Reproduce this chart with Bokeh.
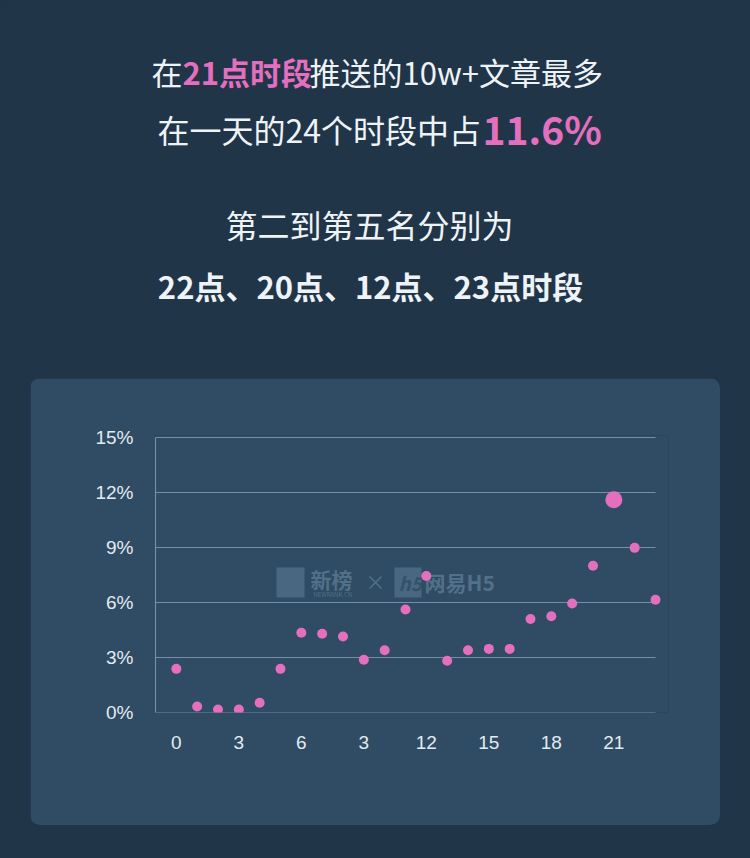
from bokeh.plotting import figure
from bokeh.layouts import column, row
from bokeh.models import Range1d, FixedTicker, ColumnDataSource, Spacer
from bokeh.core.properties import value
from bokeh.embed import file_html
from bokeh.resources import INLINE

# ---------------- data ----------------
hours = list(range(24))
share = [2.38, 0.33, 0.16, 0.16, 0.53, 2.38, 4.35, 4.30, 4.15, 2.88, 3.40, 5.62,
         7.45, 2.82, 3.40, 3.47, 3.47, 5.10, 5.25, 5.95, 8.00, 11.60, 8.98, 6.15]
top_hour = 21
x_ticks = [0, 3, 6, 9, 12, 15, 18, 21]
x_tick_labels = ["0", "3", "6", "3", "12", "15", "18", "21"]
y_ticks = [0, 3, 6, 9, 12, 15]
y_tick_labels = ["0%", "3%", "6%", "9%", "12%", "15%"]

# ---------------- style ----------------
BG = "#213549"
CARD = "#2f4c64"
GRID = "#7390a8"
PINK = "#e46fbf"
WHITE = "#eef3f7"
TICK = "#e3eaf0"
CJK = "Noto Sans CJK SC"

W, H = 750, 858
TOP_H = 378
CARD_L, CARD_W, CARD_H = 30, 690, 447
BOTTOM_GAP = H - TOP_H - CARD_H

# ---------------- headline (top panel, pixel coordinates) ----------------
top = figure(width=W, height=TOP_H, x_range=Range1d(0, W), y_range=Range1d(TOP_H, 0),
             x_axis_type=None, y_axis_type=None, min_border=0,
             output_backend="svg", toolbar_location=None,
             background_fill_color=BG, border_fill_color=BG, outline_line_color=None)
top.grid.visible = False

def lab(text, px, py, size, color, style="normal", align="left"):
    top.text(x=[px], y=[py], text=[text], text_font=value(CJK),
             text_font_size=size, text_font_style=style, text_color=color,
             text_baseline="middle", text_align=align)

lab("在", 151, 71, "31px", WHITE)
lab("21点时段", 182, 71, "31px", PINK, "bold")
lab("推送的10w+文章最多", 309, 71, "31px", WHITE)
lab("在一天的24个时段中占", 157, 128, "32px", WHITE)
lab("11.6%", 482, 127, "39px", PINK, "bold")
lab("第二到第五名分别为", 369, 223, "32px", WHITE, align="center")
lab("22点、20点、12点、23点时段", 370, 285, "31px", WHITE, "bold", align="center")

# ---------------- chart card ----------------
# frame edges in card-local pixels
FL, FR, FT, FB = 125, 638, 57, 334
PX_PER_HOUR = 500 / 24.0
PX_PER_PCT = 275 / 15.0
X_START = -1.0
X_END = X_START + (FR - FL) / PX_PER_HOUR
Y_START = 0.0
Y_END = (FB - FT) / PX_PER_PCT

p = figure(width=CARD_W, height=CARD_H,
           x_range=Range1d(X_START, X_END), y_range=Range1d(Y_START, Y_END),
           min_border_left=FL, min_border_right=CARD_W - FR,
           min_border_top=FT, min_border_bottom=CARD_H - FB,
           output_backend="svg", toolbar_location=None,
           background_fill_color=CARD, border_fill_color=CARD,
           outline_line_color=None,
           styles={"border-radius": "10px", "overflow": "hidden"})
p.xgrid.visible = False
p.ygrid.visible = False

# grid lines from the y-axis to the last hour
p.segment(x0=[X_START] * len(y_ticks), x1=[hours[-1]] * len(y_ticks),
          y0=y_ticks, y1=y_ticks, line_color=GRID, line_width=1.1)

p.yaxis.ticker = FixedTicker(ticks=y_ticks)
p.yaxis.major_label_overrides = {t: l for t, l in zip(y_ticks, y_tick_labels)}
p.yaxis.bounds = (y_ticks[0], y_ticks[-1])
p.yaxis.axis_line_color = GRID
p.yaxis.axis_line_width = 1.1
p.yaxis.major_tick_line_color = None
p.yaxis.minor_tick_line_color = None
p.yaxis.major_label_standoff = 16
p.yaxis.major_label_text_font = "Liberation Sans"
p.yaxis.major_label_text_font_size = "19px"
p.yaxis.major_label_text_color = TICK

p.xaxis.ticker = FixedTicker(ticks=x_ticks)
p.xaxis.major_label_overrides = {t: l for t, l in zip(x_ticks, x_tick_labels)}
p.xaxis.axis_line_color = None
p.xaxis.major_tick_line_color = None
p.xaxis.minor_tick_line_color = None
p.xaxis.major_label_standoff = 17
p.xaxis.major_label_text_font = "Liberation Sans"
p.xaxis.major_label_text_font_size = "19px"
p.xaxis.major_label_text_color = TICK

# watermark (page pixel positions converted to data units)
def cx(px):
    return X_START + (px - CARD_L - FL) / PX_PER_HOUR

def cy(py):
    return Y_START + (FB - (py - TOP_H)) / PX_PER_PCT

WM = "#6a8aa2"
p.quad(left=[cx(276), cx(394)], right=[cx(304), cx(421)],
       top=[cy(567), cy(567)], bottom=[cy(597), cy(597)],
       fill_color=WM, fill_alpha=0.45, line_color=None)
for txt, px, py, size, style, col, alpha in [
        ("新榜", 310, 578, "21px", "bold", WM, 0.6),
        ("NEWRANK.CN", 313, 594, "6px", "normal", WM, 0.6),
        ("×", 365, 581, "20px", "normal", WM, 0.6),
        ("h5", 398, 582, "19px", "bold italic", CARD, 0.8),
        ("网易H5", 424, 581, "21px", "bold", WM, 0.6)]:
    p.text(x=[cx(px)], y=[cy(py)], text=[txt], text_font=value(CJK),
           text_font_size=size, text_font_style=style, text_color=col,
           text_alpha=alpha, text_baseline="middle", text_align="left")

# points
sizes = [17 if h == top_hour else 10 for h in hours]
src = ColumnDataSource(dict(x=hours, y=share, s=sizes))
p.scatter("x", "y", size="s", source=src, fill_color=PINK, line_color=None)

layout = column(
    top,
    row(Spacer(width=CARD_L, height=CARD_H), p,
        Spacer(width=W - CARD_L - CARD_W, height=CARD_H), spacing=0),
    Spacer(width=W, height=BOTTOM_GAP),
    spacing=0,
    styles={"background-color": BG},
)

open("out.html", "w").write(file_html(layout, INLINE))
